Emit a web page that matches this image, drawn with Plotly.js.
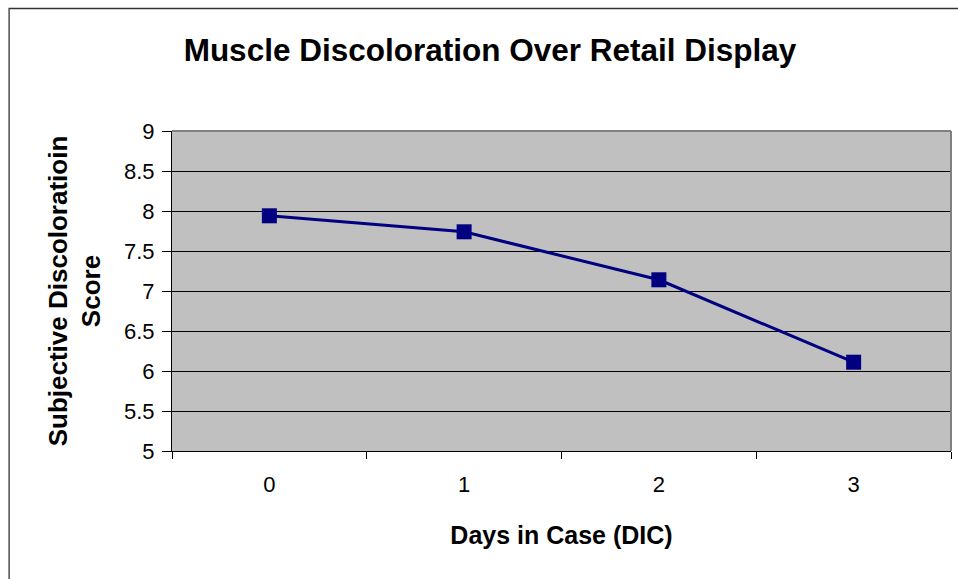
<!DOCTYPE html>
<html>
<head>
<meta charset="utf-8">
<script src="https://cdn.plot.ly/plotly-3.0.1.min.js"></script>
<style>
html,body{margin:0;padding:0;background:#fff;}
#chart{width:958px;height:579px;}
</style>
</head>
<body>
<div id="chart"></div>
<script>
const categories = ["0", "1", "2", "3"];
const scores = [7.94, 7.74, 7.14, 6.11];
const yTickVals = [5, 5.5, 6, 6.5, 7, 7.5, 8, 8.5, 9];
const yTickText = ["5", "5.5", "6", "6.5", "7", "7.5", "8", "8.5", "9"];

const L = 172, R = 951.5, T = 131, B = 451;
const W = 958, H = 579;
const pw = R - L, ph = B - T;
const px = v => (v - L) / pw;
const py = v => (B - v) / ph;

const font = "Liberation Sans, Arial, sans-serif";

const trace = {
  x: categories,
  y: scores,
  type: "scatter",
  mode: "lines+markers",
  line: {color: "#000080", width: 3},
  marker: {symbol: "square", size: 15, color: "#000080"},
  cliponaxis: false,
  hoverinfo: "x+y"
};

const layout = {
  width: W, height: H,
  margin: {l: L, r: W - R, t: T, b: H - B, pad: 0},
  paper_bgcolor: "#ffffff",
  plot_bgcolor: "#C0C0C0",
  showlegend: false,
  font: {family: font, color: "#000"},
  title: {
    text: "<b>Muscle Discoloration Over Retail Display</b>",
    font: {family: font, size: 31.5, color: "#000"},
    x: 490 / W, xanchor: "center", xref: "container",
    y: 1 - 50 / H, yanchor: "middle", yref: "container"
  },
  xaxis: {
    type: "category",
    categoryorder: "array",
    categoryarray: categories,
    range: [-0.5, 3.5],
    tickson: "boundaries",
    ticks: "outside",
    ticklen: 7,
    tickcolor: "#000",
    tickwidth: 1,
    showgrid: false,
    showline: true,
    linecolor: "#000",
    linewidth: 1,
    zeroline: false,
    tickfont: {family: font, size: 22, color: "#000"},
    ticklabelstandoff: 14,
    title: {
      text: "<b>Days in Case (DIC)</b>",
      font: {family: font, size: 25, color: "#000"},
      standoff: 30
    },
    fixedrange: true
  },
  yaxis: {
    range: [5, 9],
    tickvals: yTickVals,
    ticktext: yTickText,
    ticks: "outside",
    ticklen: 9,
    tickcolor: "#000",
    tickwidth: 1,
    showgrid: true,
    gridcolor: "#000",
    gridwidth: 1,
    showline: true,
    linecolor: "#000",
    linewidth: 1,
    zeroline: false,
    tickfont: {family: font, size: 22, color: "#000"},
    ticklabelstandoff: 3,
    title: {
      text: "<b>Subjective Discoloratioin<br>Score</b>",
      font: {family: font, size: 26, color: "#000"},
      standoff: 15
    },
    fixedrange: true
  },
  shapes: [
    {type: "line", xref: "paper", yref: "paper", x0: 0, x1: 1, y0: 1, y1: 1,
     line: {color: "#808080", width: 2}, layer: "above"},
    {type: "line", xref: "paper", yref: "paper", x0: 1, x1: 1, y0: 0, y1: 1,
     line: {color: "#808080", width: 2}, layer: "above"},
    {type: "rect", xref: "paper", yref: "paper",
     x0: px(9), x1: px(975), y0: py(600), y1: py(8.5),
     line: {color: "#333333", width: 1.3}, fillcolor: "rgba(0,0,0,0)", layer: "below"}
  ]
};

Plotly.newPlot("chart", [trace], layout, {displayModeBar: false, staticPlot: true});
</script>
</body>
</html>
